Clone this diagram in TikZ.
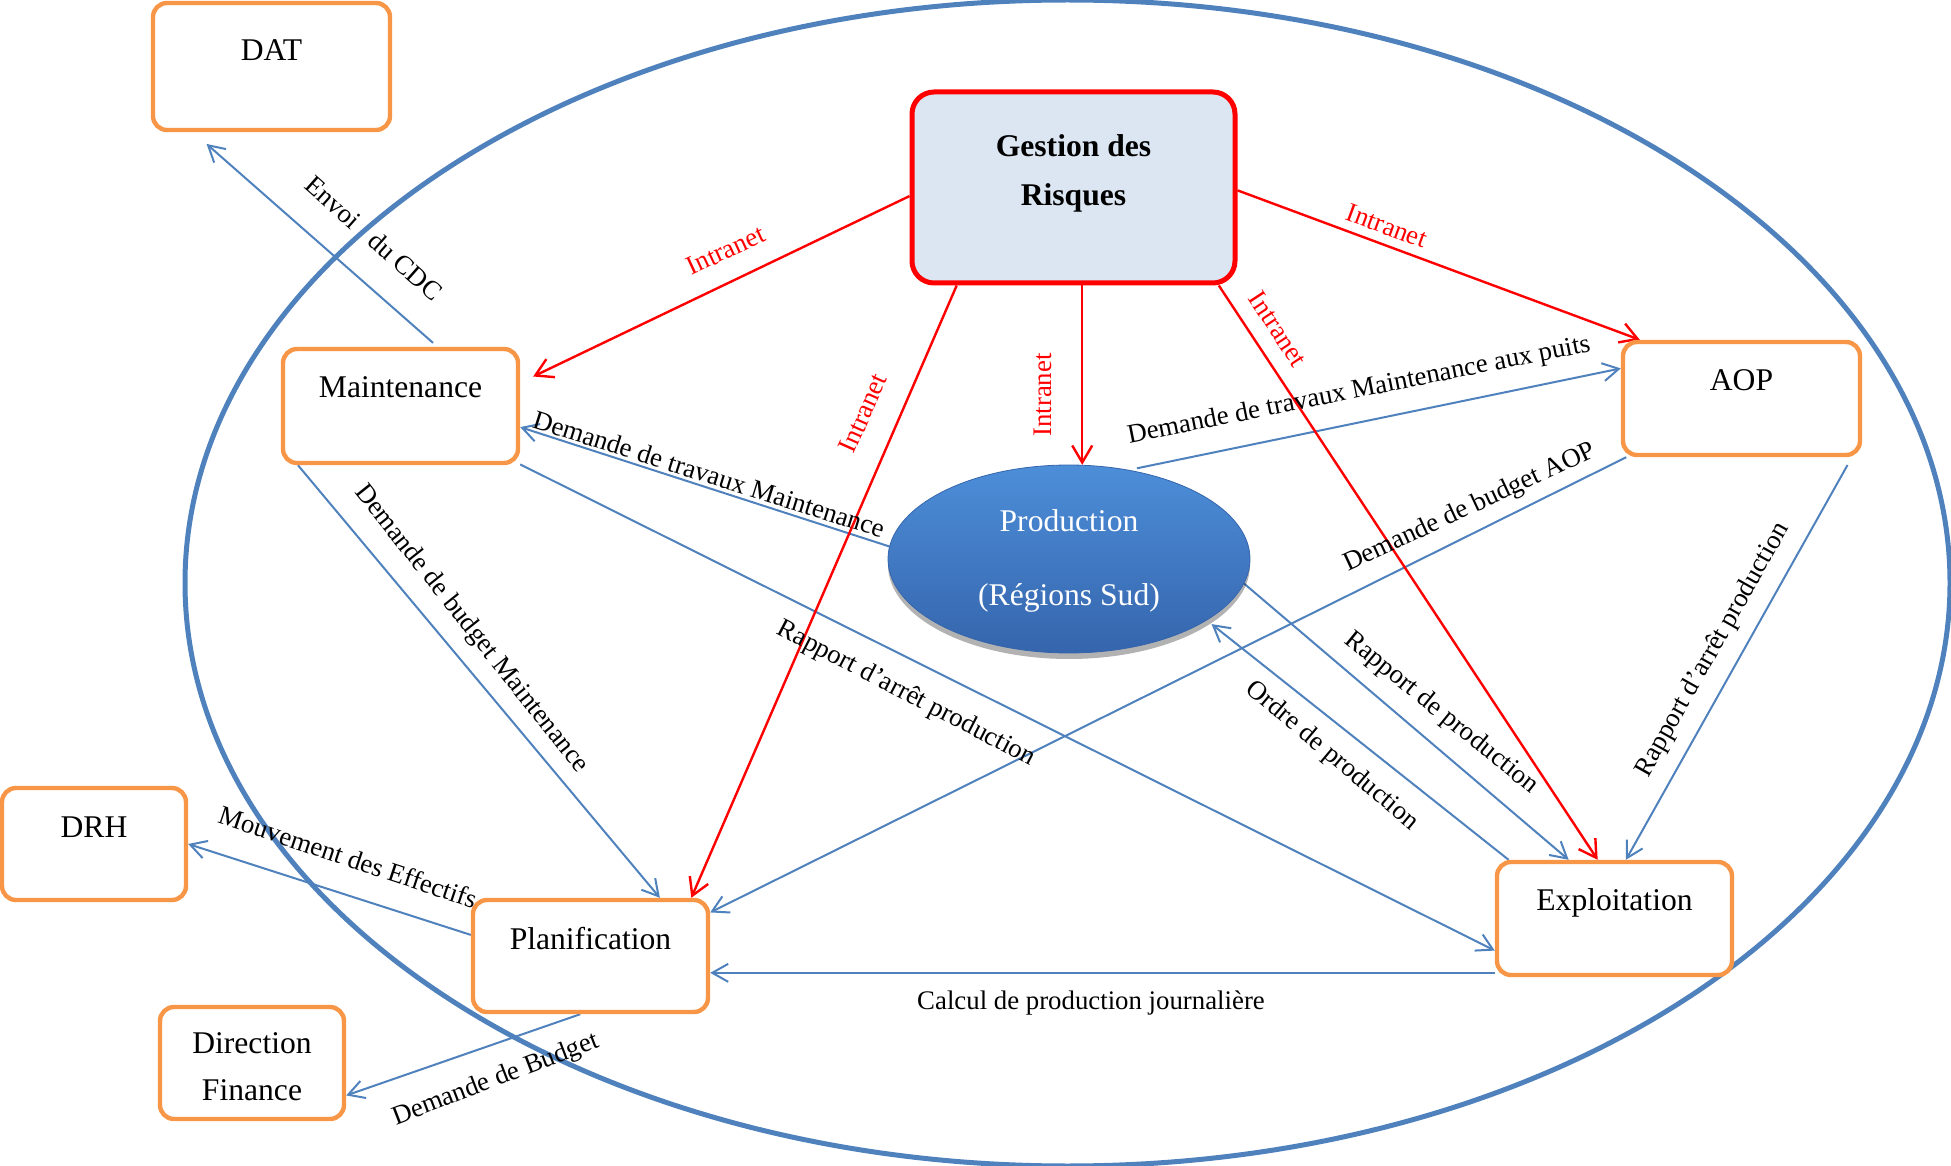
\documentclass[tikz,border=0pt]{standalone}
\usepackage{fontspec}
\setmainfont{Liberation Serif}
\usetikzlibrary{arrows.meta,shapes.geometric,shadows}

\definecolor{boxorange}{HTML}{F79646}
\definecolor{linkblue}{HTML}{4F81BD}
\definecolor{netred}{HTML}{FF0000}
\definecolor{riskfill}{HTML}{DCE6F2}
\definecolor{prodtop}{HTML}{4D8ED9}
\definecolor{prodbot}{HTML}{3565AC}

\newcommand\boxfont{\fontsize{15.8}{24.5}\selectfont}
\newcommand\lblfont{\fontsize{13.4}{16}\selectfont}

\pgfdeclarelayer{bg}
\pgfsetlayers{bg,main}

\begin{document}
\begin{tikzpicture}[x=0.5pt,y=-0.5pt,
  orangebox/.style={draw=boxorange, line width=2.2pt, rounded corners=7pt, fill=white,
                    inner sep=0pt, font=\boxfont, text height=24.5pt},
  conn/.style={draw=linkblue, line width=1pt, -{Straight Barb[length=8pt,width=9pt]}},
  net/.style={draw=netred, line width=1.2pt, -{Straight Barb[length=8.5pt,width=10pt]}},
  lbl/.style={font=\lblfont, inner sep=0pt},
  netlbl/.style={lbl, text=netred}]
\useasboundingbox (0,0) rectangle (1951,1166);

% ---- units -------------------------------------------------------------
\node[draw=netred, fill=riskfill, line width=2.5pt, rounded corners=11pt, inner sep=0pt,
      minimum width=161.5pt, text height=32.5pt, text depth=63pt, font=\boxfont\bfseries]
      (risk) at (1073.5,187.5) {\begin{tabular}[t]{c}Gestion des\\Risques\end{tabular}};

\node[orangebox, minimum width=118.5pt, text height=29pt, text depth=34.5pt] (dat) at (271.5,66.5) {DAT};
\node[orangebox, minimum width=117.5pt, text depth=32.5pt] (maint) at (400.5,406) {Maintenance};
\node[orangebox, minimum width=118.5pt, text depth=32pt] (aop) at (1741.5,398.5) {AOP};
\node[orangebox, minimum width=92pt, text depth=31.5pt] (drh) at (94,844) {DRH};
\node[orangebox, minimum width=117.5pt, text depth=31.5pt] (plan) at (590.5,956) {Planification};
\node[orangebox, minimum width=117.5pt, text height=24pt, text depth=32.5pt] (expl) at (1614.5,918.5) {Exploitation};
\node[orangebox, minimum width=92pt, text height=23pt, text depth=33pt, font=\fontsize{15.8}{23.5}\selectfont]
      (fin) at (252,1063) {\begin{tabular}[t]{c}Direction\\Finance\end{tabular}};

\node[ellipse, top color=prodtop, bottom color=prodbot, draw=prodbot, line width=0.4pt,
      minimum width=181pt, minimum height=94pt, inner sep=0pt, text height=0pt, text depth=28pt,
      text=white, font=\fontsize{15.8}{37}\selectfont,
      drop shadow={shadow xshift=0pt, shadow yshift=-3pt, opacity=0.3, fill=black}]
      (prod) at (1069,559) {\makebox[0pt]{\begin{tabular}[t]{c}Production\\(Régions Sud)\end{tabular}}};

% ---- frame and flows ---------------------------------------------------
\begin{pgfonlayer}{bg}
\draw[linkblue, line width=2.5pt] (1067.5,583) ellipse [x radius=882.5, y radius=583];

\draw[conn, shorten <=3pt, shorten >=8.9pt] (maint.58.1) -- (dat.-140.4);
\draw[conn] (prod.176.2) -- (maint.-10.1);
\draw[conn, shorten <=4pt] (prod.56.3) -- (aop.166.5);
\draw[conn] (maint.210.7) -- (plan.40.1);
\draw[conn] (maint.-26.3) -- (expl.195);
\draw[conn] (aop.207.5) -- (plan.20.96);
\draw[conn, shorten <=4.5pt] (aop.-28.6) -- (expl.79.5);
\draw[conn] (prod.-8.9) -- (expl.128.8);
\draw[conn, shorten >=3pt] (expl.151.4) -- (prod.-24.5);
\draw[conn] (plan.-8.7 -| expl.west) -- (plan.-8.7);
\draw[conn] (plan.170.8) -- (drh.-0.6);
\draw[conn] (plan.-100.6) -- (fin.-19.2);

\draw[net, shorten >=7.2pt] (risk.183.4) -- (maint.11.5);
\draw[net] (risk.220.5) -- (plan.30.6);
\draw[net] (risk.south -| prod.82.5) -- (prod.82.5);
\draw[net] (risk.-34.2) -- (expl.106.3);
\draw[net] (risk.-1.95) -- (aop.150.6);
\end{pgfonlayer}

% ---- flow labels -------------------------------------------------------
\node[lbl, rotate=-41.5] (l-cdc) at (374,238) {Envoi\hskip0.75em du CDC};
\node[lbl, rotate=-17.5] (l-dtm) at (709,474) {Demande de travaux Maintenance};
\node[lbl, rotate=11.3] (l-dtp) at (1359,391) {Demande de travaux Maintenance aux puits};
\node[lbl, rotate=-51.5] (l-dbm) at (471,629) {Demande de budget Maintenance};
\node[lbl, rotate=-27.5] (l-rap) at (906,694) {Rapport d’arrêt production};
\node[lbl, rotate=25] (l-dba) at (1470,508) {Demande de budget AOP};
\node[lbl, rotate=60.6] (l-rpa) at (1713,650) {Rapport d’arrêt production};
\node[lbl, rotate=-39] (l-rpp) at (1441,713) {Rapport de production};
\node[lbl, rotate=-40] (l-ord) at (1332,756) {Ordre de production};
\node[lbl] (l-calc) at (1091,1003) {Calcul de production journalière};
\node[lbl, rotate=-18.5] (l-mvt) at (348,857) {Mouvement des Effectifs};
\node[lbl, rotate=21] (l-bud) at (496,1080) {Demande de Budget};

\node[netlbl, rotate=25] (n-maint) at (726,250) {Intranet};
\node[netlbl, rotate=66] (n-plan) at (863,413) {Intranet};
\node[netlbl, rotate=90] (n-prod) at (1043,395) {Intranet};
\node[netlbl, rotate=-56.6] (n-expl) at (1278,329) {Intranet};
\node[netlbl, rotate=-20.3] (n-aop) at (1387,226) {Intranet};
\end{tikzpicture}
\end{document}
